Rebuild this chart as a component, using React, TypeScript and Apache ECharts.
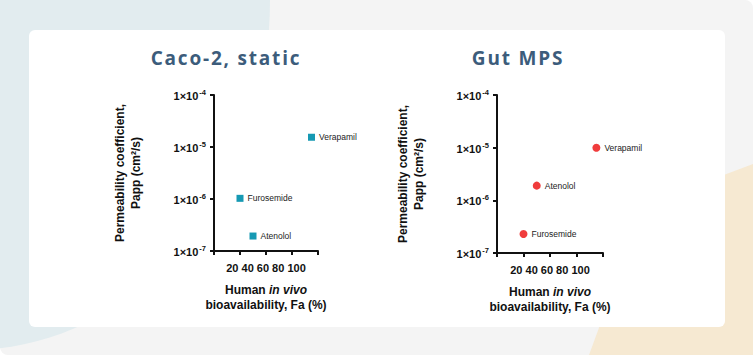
import React, { useEffect, useRef } from "react";
import * as echarts from "echarts";

const drugs = ["Furosemide", "Atenolol", "Verapamil"];
const faPercent = [30, 45, 112.5];
const cacoPapp = [1.03e-6, 1.94e-7, 1.54e-5];
const gutMpsPapp = [2.3e-7, 1.9e-6, 1.0e-5];
const panelTitles = ["Caco-2, static", "Gut MPS"];
const xTickLabels = ["20", "40", "60", "80", "100"];
const xMin = 0;
const xMax = 120;
const xInterval = 30;
const yMin = 1e-7;
const yMax = 1e-4;

const AX = "Arial, 'Liberation Sans', sans-serif";
const INK = "#111";

function buildXAxis(gridIndex: number) {
  return {
    type: "value",
    gridIndex,
    min: xMin,
    max: xMax,
    interval: xInterval,
    name: "{b|Human }{i|in vivo}\n{b|bioavailability, Fa (%)}",
    nameLocation: "middle",
    nameGap: 31,
    nameTextStyle: {
      rich: {
        b: { fontFamily: AX, fontSize: 12, fontWeight: "bold", color: INK, lineHeight: 15 },
        i: { fontFamily: AX, fontSize: 12, fontWeight: "bold", fontStyle: "italic", color: INK, lineHeight: 15 },
      },
    },
    axisLine: { show: true, onZero: false, lineStyle: { color: INK, width: 2 } },
    axisTick: { show: true, inside: false, length: 4, lineStyle: { color: INK, width: 2 } },
    splitLine: { show: false },
    axisLabel: {
      margin: 11,
      fontFamily: AX,
      fontSize: 11,
      fontWeight: "bold",
      color: INK,
      showMinLabel: true,
      showMaxLabel: true,
      formatter: (v: number) => (v === (xMin + xMax) / 2 ? xTickLabels.join(" ") : ""),
    },
  };
}

function buildYAxis(gridIndex: number) {
  return {
    type: "log",
    logBase: 10,
    gridIndex,
    min: yMin,
    max: yMax,
    name: "Permeability coefficient,\nPapp (cm²/s)",
    nameLocation: "middle",
    nameRotate: 90,
    nameGap: 70,
    nameTextStyle: { fontFamily: AX, fontSize: 12, fontWeight: "bold", color: INK, lineHeight: 16 },
    axisLine: { show: true, onZero: false, lineStyle: { color: INK, width: 2 } },
    axisTick: { show: true, inside: false, length: 4, lineStyle: { color: INK, width: 2 } },
    splitLine: { show: false },
    axisLabel: {
      margin: 8,
      formatter: (v: number) => {
        const e = Math.round(Math.log10(v));
        return `{a|1×10}{e|${e}}`;
      },
      rich: {
        a: { fontFamily: AX, fontSize: 11, fontWeight: "bold", color: INK, lineHeight: 13, verticalAlign: "bottom" },
        e: { fontFamily: AX, fontSize: 7.5, fontWeight: "bold", color: INK, lineHeight: 13, verticalAlign: "top", padding: [0, 0, 0, 1] },
      },
    },
  };
}

export default function App() {
  const ref = useRef<HTMLDivElement>(null);
  useEffect(() => {
    if (!ref.current) return;
    const chart = echarts.init(ref.current, undefined, { renderer: "svg" });
    const titleStyle = (text: string, x: number) => ({
      type: "text",
      x,
      y: 58,
      z: 10,
      style: {
        text,
        fill: "#3c5c7b",
        fontFamily: "'Open Sans', sans-serif",
        fontSize: 19,
        fontWeight: 700,
        align: "center",
        verticalAlign: "middle",
      },
    });
    const labelStyle = { show: true, position: "right", distance: 4, formatter: "{b}", fontFamily: AX, fontSize: 8.5, color: "#222" };
    chart.setOption({
      animation: false,
      backgroundColor: "#ffffff",
      graphic: [
        { type: "rect", z: -100, shape: { x: 0, y: 0, width: 753, height: 355, r: 8 }, style: { fill: "#f4f4f4" } },
        { type: "ellipse", z: -99, shape: { cx: -30, cy: 0, rx: 300, ry: 350 }, style: { fill: "#e2ecef" } },
        {
          type: "polygon",
          z: -99,
          shape: { points: [[753, 164], [644, 205], [589, 355], [753, 355]] },
          style: { fill: "#f6e9d2" },
        },
        { type: "rect", z: -98, shape: { x: 29, y: 30, width: 696, height: 297, r: 6 }, style: { fill: "#ffffff" } },
        titleStyle(panelTitles[0], 226),
        titleStyle(panelTitles[1], 518),
      ],
      grid: [
        { left: 214, top: 95, width: 104, height: 156, containLabel: false },
        { left: 497, top: 95, width: 106, height: 158, containLabel: false },
      ],
      xAxis: [buildXAxis(0), buildXAxis(1)],
      yAxis: [buildYAxis(0), buildYAxis(1)],
      series: [
        {
          type: "scatter",
          xAxisIndex: 0,
          yAxisIndex: 0,
          symbol: "rect",
          symbolSize: 7,
          itemStyle: { color: "#1699b3", opacity: 1 },
          label: labelStyle,
          data: drugs.map((d, i) => ({ name: d, value: [faPercent[i], cacoPapp[i]] })),
        },
        {
          type: "scatter",
          xAxisIndex: 1,
          yAxisIndex: 1,
          symbol: "circle",
          symbolSize: 8,
          itemStyle: { color: "#f03c3c", opacity: 1 },
          label: labelStyle,
          data: drugs.map((d, i) => ({ name: d, value: [faPercent[i], gutMpsPapp[i]] })),
        },
      ],
    });
    const texts = ref.current.querySelectorAll("text");
    texts.forEach((t) => {
      if (panelTitles.includes((t.textContent || "").trim())) {
        t.setAttribute("letter-spacing", "1.8px");
      }
    });
    return () => chart.dispose();
  }, []);
  return <div ref={ref} style={{ position: "absolute", left: 0, top: 0, width: 754, height: 356 }} />;
}
